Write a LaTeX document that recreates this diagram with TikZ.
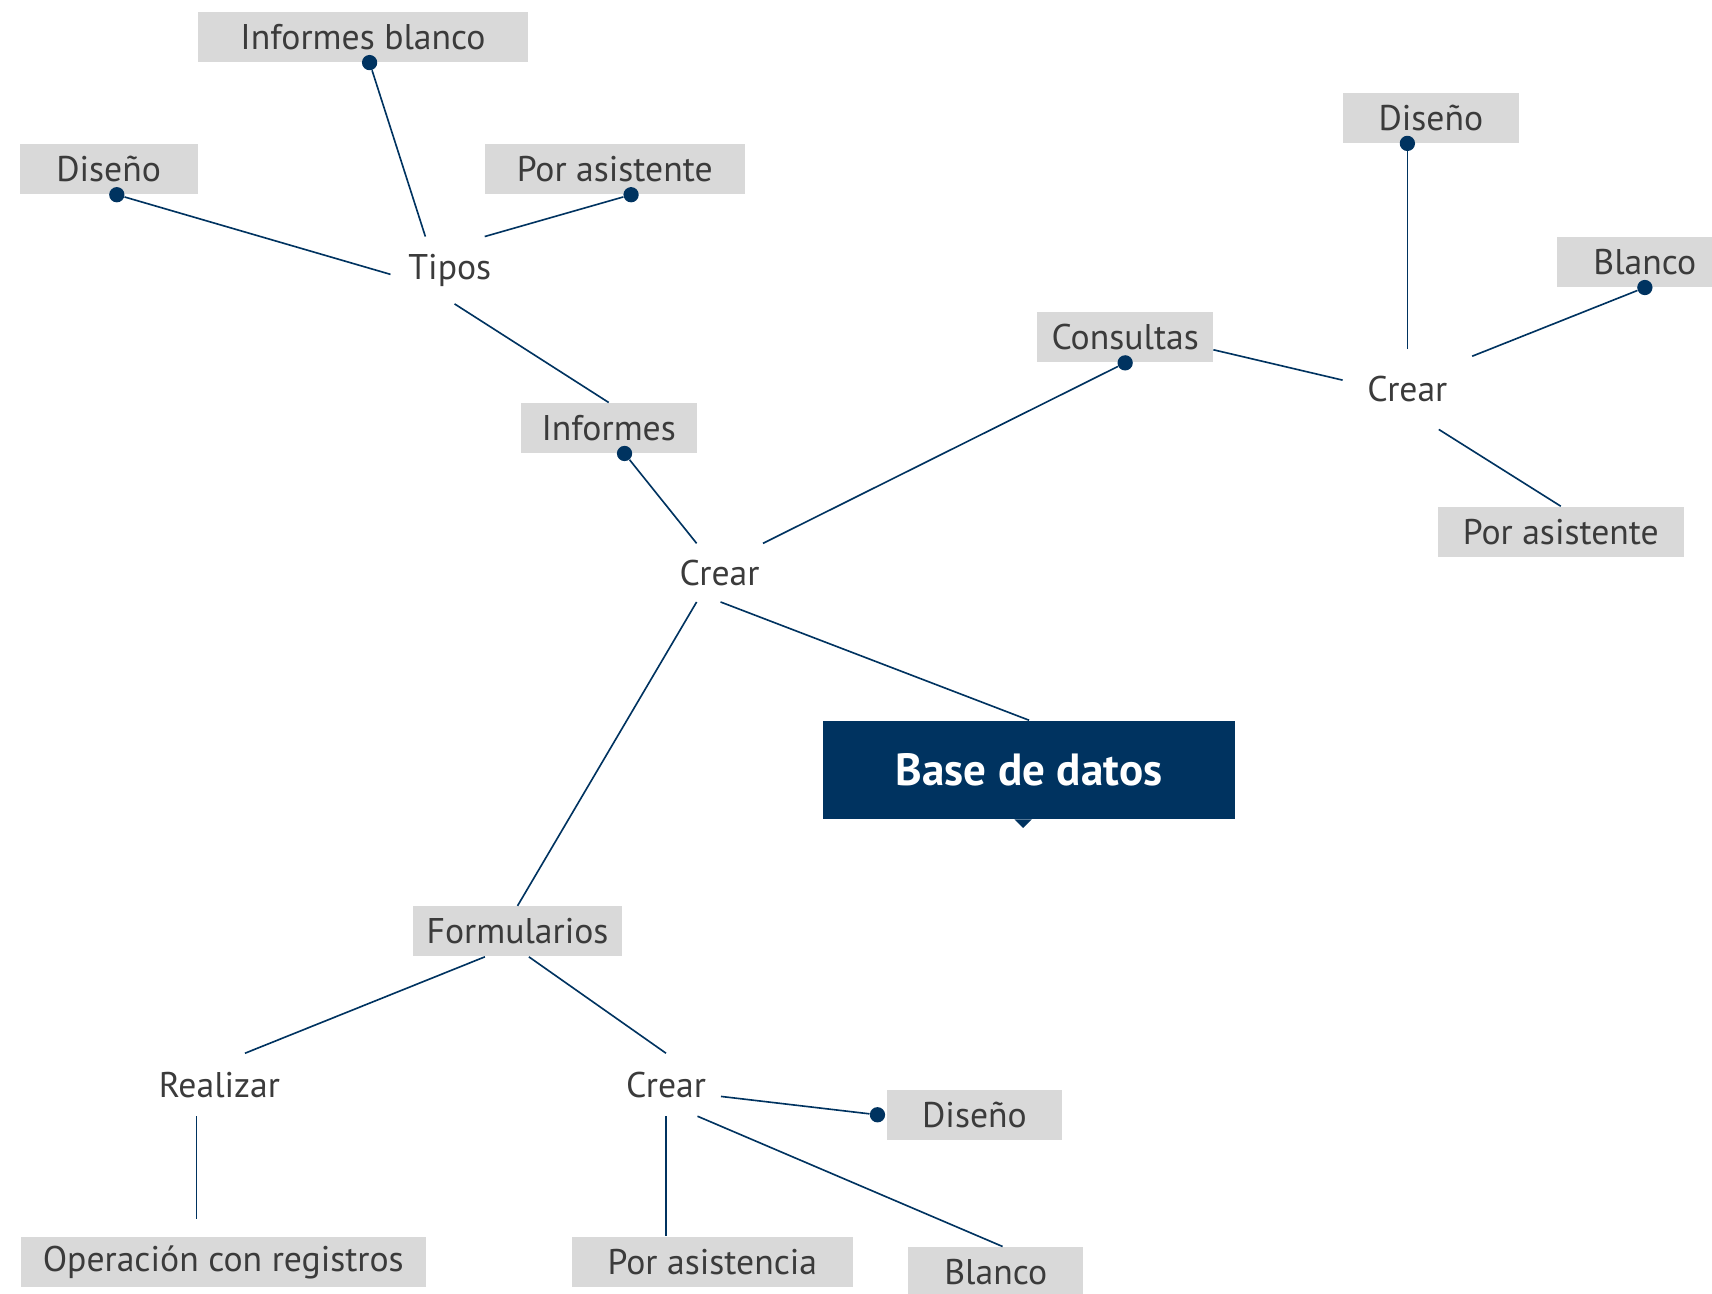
\documentclass[tikz,border=0pt]{standalone}
\usepackage{fontspec}
\setmainfont{PT Sans}
\usetikzlibrary{calc, positioning}

\definecolor{navy}{HTML}{003360}
\definecolor{boxgray}{HTML}{D9D9D9}
\definecolor{ink}{HTML}{3B3B3B}

\tikzset{
  box/.style={fill=boxgray, text=ink, font=\fontsize{18.6}{22}\selectfont,
    minimum height=0.92cm, inner sep=0pt},
  word/.style={text=ink, font=\fontsize{18.6}{22}\selectfont, inner sep=0pt},
  dot/.style={circle, fill=navy, inner sep=0pt, minimum size=0.28cm},
  link/.style={navy, line width=0.85pt},
}

\begin{document}
\begin{tikzpicture}[x=0.02cm, y=-0.02cm]
    \useasboundingbox (0,0) rectangle (1568,1185);
    \clip (0,0) rectangle (1568,1185);

    % --- Informes branch ---
    \node[box, minimum width=6.06cm] (infblanco) at (332.5,34) {Informes blanco};
    \node[box, minimum width=3.26cm] (disenoA) at (99.5,155) {Diseño};
    \node[box, minimum width=4.76cm] (asistA) at (563,155) {Por asistente};
    \node[word, minimum width=2.16cm, minimum height=1.22cm] (tipos) at (412,247.5) {Tipos};
    \node[box, minimum width=3.22cm] (informes) at (557.5,392) {Informes};

    % --- Centre ---
    \node[word, minimum width=1.6cm, minimum height=1.06cm] (crearA) at (659,524.5) {Crear};
    \node[fill=navy, text=white, font=\bfseries\fontsize{23.5}{28}\selectfont,
      minimum width=7.54cm, minimum height=1.8cm, inner sep=0pt] (base) at (942.5,705) {Base de datos};
    % small notch under the title box
    \fill[navy] ($(base.south)+(-13.5,0)$) -- ($(base.south)+(2.5,0)$)
      -- ($(base.south)+(-5.5,8)$) -- cycle;

    % --- Consultas branch ---
    \node[box, minimum width=3.22cm] (consultas) at (1030.5,309) {Consultas};
    \node[word, minimum width=2.36cm, minimum height=1.46cm] (crearB) at (1289,356.5) {Crear};
    \node[box, minimum width=3.22cm] (disenoB) at (1310.5,108) {Diseño};
    \node[box, minimum width=3.22cm] (blancoB) at (1506.5,240) {Blanco};
    \node[box, minimum width=4.5cm] (asistB) at (1429.5,487) {Por asistente};

    % --- Formularios branch ---
    \node[box, minimum width=3.84cm] (formularios) at (474,853) {Formularios};
    \node[word, minimum width=2.2cm, minimum height=1.14cm] (realizar) at (201,993.5) {Realizar};
    \node[word, minimum width=2cm, minimum height=1.14cm] (crearC) at (610,993.5) {Crear};
    \node[box, minimum width=7.42cm] (operacion) at (204.5,1156) {Operación con registros};
    \node[box, minimum width=5.14cm] (asistC) at (652.5,1155.5) {Por asistencia};
    \node[box, minimum width=3.22cm] (disenoC) at (892.5,1021) {Diseño};
    \node[box, minimum width=3.2cm] (blancoC) at (912,1165) {Blanco};

    % Dots on the boxes
    \node[dot] (d1) at ($(infblanco.south)+(6,0)$) {};
    \node[dot] (d2) at ($(disenoA.south)+(7.5,0)$) {};
    \node[dot] (d3) at ($(asistA.south)+(15,0)$) {};
    \node[dot] (d4) at ($(informes.south)+(14.5,0)$) {};
    \node[dot] (d5) at (consultas.south) {};
    \node[dot] (d6) at ($(disenoB.south)+(-21.5,0)$) {};
    \node[dot] (d7) at (blancoB.south) {};
    \node[dot] (d8) at ($(disenoC.west)+(-8,0)$) {};

    % Links
    \draw[link] (d1) -- (tipos.126);
    \draw[link] (d2) -- (tipos.184);
    \draw[link] (d3) -- (tipos.44);
    \draw[link] (tipos.278) -- (informes.north);
    \draw[link] (d4) -- (crearA.128);
    \draw[link] (crearA.34) -- (d5);
    \draw[link] (crearA.272) -- (base.north);
    \draw[link] (crearA.232) -- (formularios.north);
    \draw[link] (consultas.352) -- (crearB.172);
    \draw[link] (crearB.north) -- (d6);
    \draw[link] (crearB.27) -- (d7);
    \draw[link] (crearB.308) -- (asistB.north);
    \draw[link] (formularios.218) -- (realizar.51);
    \draw[link] (formularios.294) -- (crearC.north);
    \draw[link, shorten >=0.32cm] (realizar.234) -- (realizar.234 |- operacion.north);
    \draw[link] (crearC.south) -- (crearC.south |- asistC.north);
    \draw[link] (crearC.348) -- (d8);
    \draw[link] (crearC.315) -- (blancoC.75);

\end{tikzpicture}
\end{document}
